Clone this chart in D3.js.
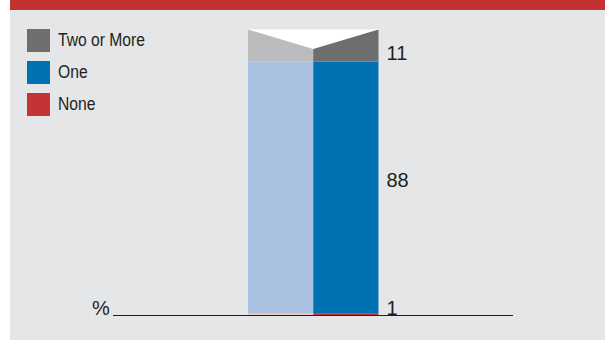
<html>
    <head>
        <meta charset="UTF-8">
        <title>Children chart</title>
        <script src="https://d3js.org/d3.v7.min.js"></script>
        <style>
            body { margin: 0; background: #ffffff; }
            .legend-text { font-family: "Liberation Sans", Arial, sans-serif; font-size: 18px; fill: #231f20; }
            .value-text { font-family: "Liberation Sans", Arial, sans-serif; font-size: 20px; fill: #231f20; }
        </style>
    </head>
    <body>
        <svg id='svg1' height='340' width='605'></svg>

        <script>
            // data
            const categories = ["None", "One", "Two or More"];
            const values = [1, 88, 11];
            const labelAlign = ["bottom", "middle", "bottom"];
            const legendOrder = ["Two or More", "One", "None"];
            const unitLabel = "%";

            const darkColors = {"None": "#c43434", "One": "#0071b2", "Two or More": "#6d6e70"};
            const lightColors = {"None": "#eac5c0", "One": "#a9c2e1", "Two or More": "#bbbcbe"};

            const svg = d3.select('svg#svg1');

            // background panel + header stripe
            svg.append('rect').attr('x', 10).attr('y', 0).attr('width', 595).attr('height', 340).style('fill', '#e5e6e8');
            svg.append('rect').attr('x', 10).attr('y', 0).attr('width', 595).attr('height', 10).style('fill', '#c33132');

            // stack the values
            let acc = 0;
            const stacked = values.map((v, i) => {
                const d = {cat: categories[i], value: v, y0: acc, y1: acc + v, align: labelAlign[i]};
                acc += v;
                return d;
            });

            const yScale = d3.scaleLinear().domain([0, 100]).range([316, 30]);
            const xScale = d3.scaleBand().domain(["light", "dark"]).range([248, 378.5]).padding(0);

            const chartArea = svg.append('g');

            ["light", "dark"].forEach(side => {
                chartArea.selectAll('rect.' + side)
                    .data(stacked)
                    .enter()
                    .append('rect')
                    .attr('class', side)
                    .attr('x', xScale(side))
                    .attr('y', d => yScale(d.y1))
                    .attr('width', xScale.bandwidth())
                    .attr('height', d => yScale(d.y0) - yScale(d.y1))
                    .style('fill', d => side == "light" ? lightColors[d.cat] : darkColors[d.cat]);
            });

            // white top face notch
            const topY = yScale(acc);
            const notch = 19;
            const x0 = xScale("light"), xm = xScale("dark"), x1 = xScale("dark") + xScale.bandwidth();
            chartArea.append('polygon')
                .attr('points', `${x0},${topY - 0.5} ${xm},${topY + notch} ${x1},${topY - 0.5}`)
                .style('fill', '#ffffff');

            // baseline
            svg.append('line')
                .attr('x1', 113).attr('x2', 513)
                .attr('y1', yScale(0) - 0.5).attr('y2', yScale(0) - 0.5)
                .style('stroke', '#231f20').style('stroke-width', 1.2);

            svg.append('text').attr('class', 'value-text')
                .attr('x', 92).attr('y', 315)
                .text(unitLabel);

            // value labels
            chartArea.selectAll('text.value-text')
                .data(stacked)
                .enter()
                .append('text')
                .attr('class', 'value-text')
                .attr('x', x1 + 8)
                .attr('y', d => d.align == "middle" ? yScale((d.y0 + d.y1) / 2) : yScale(d.y0) - 1.5)
                .text(d => d.value);

            // legend (condensed look: squeeze the regular face horizontally)
            const legend = svg.append('g');
            legendOrder.forEach((c, i) => {
                legend.append('rect')
                    .attr('x', 27).attr('y', 29 + i * 32)
                    .attr('width', 23).attr('height', 23)
                    .style('fill', darkColors[c]);
                legend.append('text')
                    .attr('class', 'legend-text')
                    .attr('transform', `translate(58, ${46 + i * 32}) scale(0.87, 1)`)
                    .text(c);
            });
        </script>
    </body>
</html>
